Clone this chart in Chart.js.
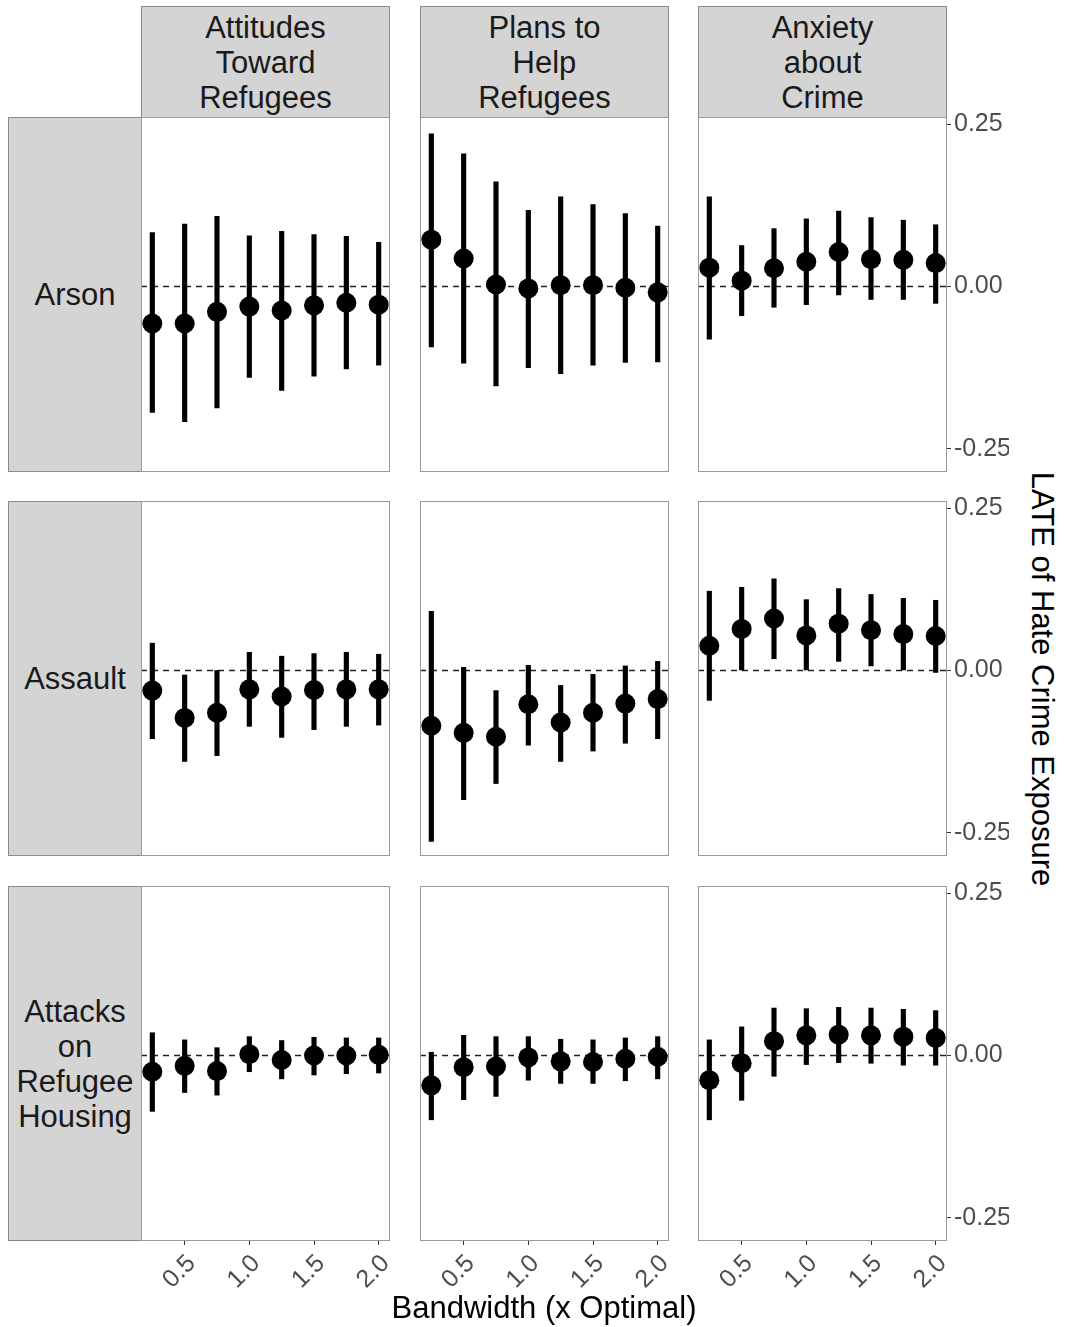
<!DOCTYPE html>
<html>
<head>
<meta charset="utf-8">
<script src="https://cdn.jsdelivr.net/npm/chart.js@4"></script>
<style>
  body { margin: 0; background: #fff; }
  #fig { position: relative; width: 1066px; height: 1327px; font-family: 'Liberation Sans', Arial, sans-serif; }
  .strip { position: absolute; box-sizing: border-box; background: #d4d4d4; border: 1px solid #8a8a8a;
           display: flex; align-items: center; justify-content: center; text-align: center;
           font-size: 31px; line-height: 35px; color: #1a1a1a; }
  canvas { position: absolute; }
  .title { position: absolute; font-size: 31px; color: #000; white-space: nowrap; }
</style>
</head>
<body>
<div id="fig"></div>
<script>
const bandwidths = [0.25, 0.5, 0.75, 1.0, 1.25, 1.5, 1.75, 2.0];
const outcomes = ['Attitudes\nToward\nRefugees', 'Plans to\nHelp\nRefugees', 'Anxiety\nabout\nCrime'];
const crimeTypes = ['Arson', 'Assault', 'Attacks\non\nRefugee\nHousing'];
const xTicks = [0.5, 1.0, 1.5, 2.0];
const yTicks = [-0.25, 0, 0.25];

// Arson
const arsonAttEst = [-0.057, -0.057, -0.039, -0.031, -0.037, -0.029, -0.025, -0.028];
const arsonAttLo  = [-0.194, -0.208, -0.187, -0.140, -0.160, -0.138, -0.127, -0.121];
const arsonAttHi  = [0.083, 0.096, 0.108, 0.078, 0.085, 0.080, 0.077, 0.068];
const arsonPlanEst = [0.072, 0.043, 0.003, -0.003, 0.002, 0.002, -0.002, -0.009];
const arsonPlanLo  = [-0.093, -0.118, -0.153, -0.125, -0.134, -0.121, -0.117, -0.116];
const arsonPlanHi  = [0.235, 0.204, 0.161, 0.117, 0.138, 0.126, 0.112, 0.093];
const arsonAnxEst = [0.029, 0.009, 0.028, 0.038, 0.053, 0.042, 0.041, 0.036];
const arsonAnxLo  = [-0.081, -0.045, -0.032, -0.028, -0.013, -0.020, -0.020, -0.026];
const arsonAnxHi  = [0.138, 0.063, 0.089, 0.104, 0.116, 0.106, 0.102, 0.095];

// Assault
const assaultAttEst = [-0.031, -0.073, -0.065, -0.029, -0.040, -0.030, -0.029, -0.029];
const assaultAttLo  = [-0.105, -0.140, -0.131, -0.086, -0.103, -0.091, -0.086, -0.084];
const assaultAttHi  = [0.042, -0.007, 0.000, 0.028, 0.022, 0.026, 0.028, 0.025];
const assaultPlanEst = [-0.085, -0.096, -0.102, -0.052, -0.080, -0.065, -0.051, -0.044];
const assaultPlanLo  = [-0.263, -0.199, -0.174, -0.115, -0.140, -0.124, -0.112, -0.105];
const assaultPlanHi  = [0.091, 0.005, -0.031, 0.008, -0.023, -0.006, 0.007, 0.014];
const assaultAnxEst = [0.038, 0.064, 0.080, 0.054, 0.072, 0.062, 0.056, 0.053];
const assaultAnxLo  = [-0.046, 0.000, 0.018, 0.000, 0.014, 0.007, 0.000, -0.003];
const assaultAnxHi  = [0.122, 0.128, 0.141, 0.109, 0.126, 0.117, 0.111, 0.108];

// Attacks on refugee housing
const housingAttEst = [-0.025, -0.016, -0.024, 0.002, -0.007, 0.000, 0.000, 0.001];
const housingAttLo  = [-0.086, -0.057, -0.061, -0.025, -0.036, -0.030, -0.028, -0.027];
const housingAttHi  = [0.035, 0.024, 0.012, 0.029, 0.023, 0.028, 0.027, 0.027];
const housingPlanEst = [-0.046, -0.018, -0.017, -0.003, -0.009, -0.010, -0.005, -0.002];
const housingPlanLo  = [-0.099, -0.068, -0.063, -0.038, -0.043, -0.043, -0.039, -0.036];
const housingPlanHi  = [0.005, 0.031, 0.029, 0.029, 0.025, 0.024, 0.027, 0.029];
const housingAnxEst = [-0.038, -0.012, 0.022, 0.031, 0.032, 0.031, 0.029, 0.027];
const housingAnxLo  = [-0.099, -0.069, -0.032, -0.014, -0.011, -0.012, -0.015, -0.015];
const housingAnxHi  = [0.024, 0.044, 0.073, 0.072, 0.074, 0.073, 0.071, 0.069];

const PANELS = [
  [[arsonAttEst, arsonAttLo, arsonAttHi], [arsonPlanEst, arsonPlanLo, arsonPlanHi], [arsonAnxEst, arsonAnxLo, arsonAnxHi]],
  [[assaultAttEst, assaultAttLo, assaultAttHi], [assaultPlanEst, assaultPlanLo, assaultPlanHi], [assaultAnxEst, assaultAnxLo, assaultAnxHi]],
  [[housingAttEst, housingAttLo, housingAttHi], [housingPlanEst, housingPlanLo, housingPlanHi], [housingAnxEst, housingAnxLo, housingAnxHi]],
];

const X_MIN = 0.1625, X_MAX = 2.0875;
const Y_MIN = -0.2855, Y_MAX = 0.2608;

const colLeft = [141, 420, 698];
const rowTop = [117, 501, 886];
const panelW = 249, panelH = 355;
const yAxisW = 62, xAxisH = 60;
const PAD = 16; // room above/below the panel so edge tick labels are not clipped

const fig = document.getElementById('fig');

function addStrip(text, left, top, width, height) {
  const div = document.createElement('div');
  div.className = 'strip';
  div.style.left = left + 'px';
  div.style.top = top + 'px';
  div.style.width = width + 'px';
  div.style.height = height + 'px';
  div.innerHTML = text.split('\n').join('<br>');
  fig.appendChild(div);
}

function addTitle(text, x, y, rotate) {
  const div = document.createElement('div');
  div.className = 'title';
  div.style.left = x + 'px';
  div.style.top = y + 'px';
  div.style.transform = 'translate(-50%, -50%)' + (rotate ? ' rotate(90deg)' : '');
  div.textContent = text;
  fig.appendChild(div);
}

function fixSize(size) {
  return scale => {
    if (!scale.options.display) return;
    if (scale.isHorizontal()) scale.height = size; else scale.width = size;
    scale.paddingLeft = scale.paddingRight = scale.paddingTop = scale.paddingBottom = 0;
  };
}

const panelBorder = {
  id: 'panelBorder',
  afterDatasetsDraw(chart) {
    const a = chart.chartArea;
    const ctx = chart.ctx;
    ctx.save();
    ctx.strokeStyle = '#9a9a9a';
    ctx.lineWidth = 1;
    ctx.strokeRect(a.left + 0.5, a.top + 0.5, a.right - a.left - 1, a.bottom - a.top - 1);
    ctx.restore();
  }
};

outcomes.forEach((o, c) => addStrip(o, colLeft[c], 6, panelW, rowTop[0] - 6 + 1));
crimeTypes.forEach((t, r) => addStrip(t, 8, rowTop[r], colLeft[0] - 8 + 1, panelH));

PANELS.forEach((row, r) => {
  row.forEach(([est, lo, hi], c) => {
    const showY = c === 2;
    const showX = r === 2;
    const canvas = document.createElement('canvas');
    const w = panelW + (showY ? yAxisW : 0);
    const h = panelH + 2 * PAD + (showX ? xAxisH : 0);
    canvas.width = w;
    canvas.height = h;
    canvas.style.width = w + 'px';
    canvas.style.height = h + 'px';
    canvas.style.left = colLeft[c] + 'px';
    canvas.style.top = (rowTop[r] - PAD) + 'px';
    fig.appendChild(canvas);

    new Chart(canvas, {
      type: 'scatter',
      data: {
        datasets: [
          {
            type: 'line',
            data: [{x: X_MIN, y: 0}, {x: X_MAX, y: 0}],
            borderColor: '#222',
            borderWidth: 1.5,
            borderDash: [6, 5],
            pointRadius: 0,
            order: 3,
          },
          {
            type: 'bar',
            data: bandwidths.map((b, i) => ({x: b, y: [lo[i], hi[i]]})),
            backgroundColor: '#000',
            barThickness: 4.5,
            order: 2,
          },
          {
            type: 'scatter',
            data: bandwidths.map((b, i) => ({x: b, y: est[i]})),
            backgroundColor: '#000',
            borderWidth: 0,
            pointRadius: 10,
            pointHoverRadius: 10,
            order: 1,
          },
        ],
      },
      options: {
        responsive: false,
        animation: false,
        layout: { padding: { top: PAD, bottom: PAD, left: 0, right: 0 }, autoPadding: false },
        plugins: { legend: { display: false }, tooltip: { enabled: false } },
        scales: {
          x: {
            type: 'linear',
            min: X_MIN,
            max: X_MAX,
            offset: false,
            display: showX,
            afterBuildTicks: s => { s.ticks = xTicks.map(v => ({value: v})); },
            afterFit: fixSize(xAxisH),
            grid: { drawOnChartArea: false, drawTicks: true, tickLength: 4, color: '#333', offset: false },
            border: { display: false },
            ticks: {
              minRotation: 45,
              maxRotation: 45,
              padding: 4,
              labelOffset: 7,
              color: '#4d4d4d',
              font: { family: "'Liberation Sans', Arial, sans-serif", size: 25 },
              callback: v => v.toFixed(1),
            },
          },
          y: {
            type: 'linear',
            position: 'right',
            min: Y_MIN,
            max: Y_MAX,
            display: showY,
            afterBuildTicks: s => { s.ticks = yTicks.map(v => ({value: v})); },
            afterFit: fixSize(yAxisW),
            grid: { drawOnChartArea: false, drawTicks: true, tickLength: 4, color: '#333' },
            border: { display: false },
            ticks: {
              padding: 3,
              color: '#4d4d4d',
              font: { family: "'Liberation Sans', Arial, sans-serif", size: 25 },
              callback: v => v.toFixed(2),
            },
          },
        },
      },
      plugins: [panelBorder],
    });
  });
});

addTitle('LATE of Hate Crime Exposure', 1042, 679, true);
addTitle('Bandwidth (x Optimal)', 544, 1308, false);
</script>
</body>
</html>
